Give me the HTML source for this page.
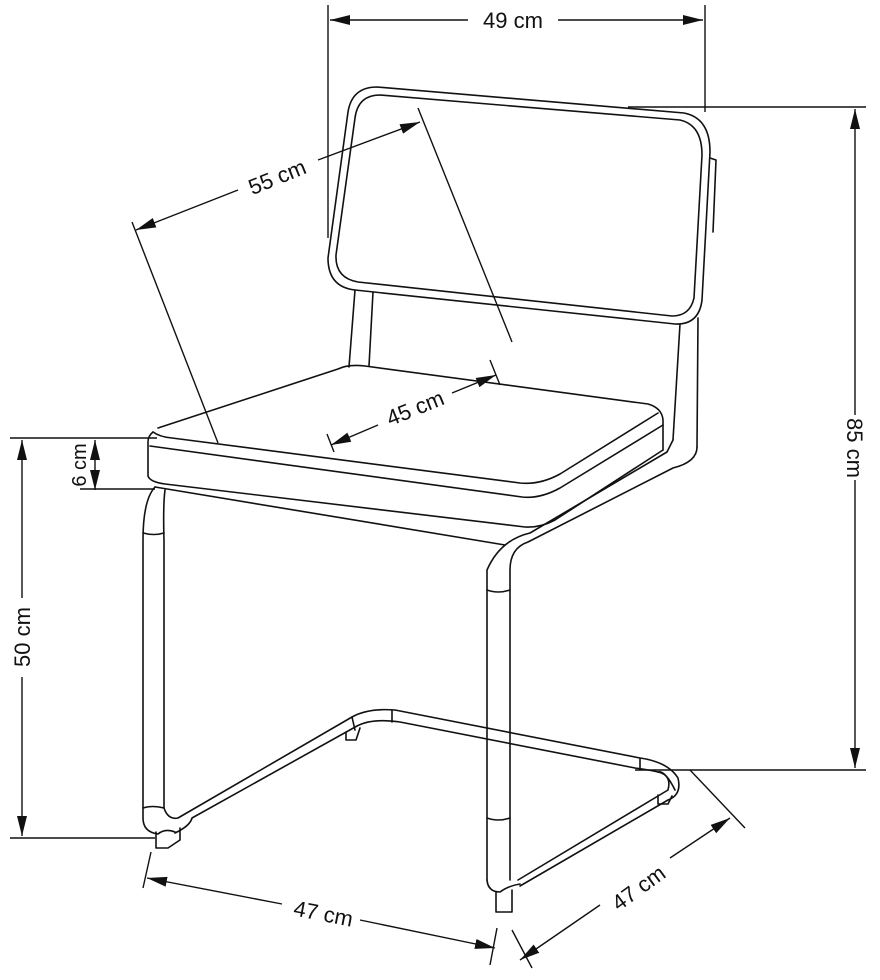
<!DOCTYPE html>
<html><head><meta charset="utf-8"><style>
html,body{margin:0;padding:0;background:#fff}
svg{display:block}
text{font-family:"Liberation Sans",sans-serif;font-size:22px;fill:#111}
</style></head><body>
<svg width="880" height="980" viewBox="0 0 880 980" xmlns="http://www.w3.org/2000/svg">
<defs>
<marker id="b" viewBox="0 0 20 10" refX="20" refY="5" markerWidth="20" markerHeight="10" orient="auto-start-reverse" markerUnits="userSpaceOnUse"><path d="M0,0 L20,5 L0,10 Z" fill="#111"/></marker>
</defs>
<g fill="none" stroke="#111" stroke-width="1.6" stroke-linejoin="round" stroke-linecap="round">
<!-- backrest -->
<path d="M377,87 L684,113 Q710,118 710,152 L702,300 Q699,325 675,324 L355,290 Q328,287 328,258 L348,112 Q352,87 377,87 Z"/>
<path d="M380,95 L680,120 Q702,125 702,155 L694,298 Q690,316 672,316 L358,282 Q335,278 336,255 L355,118 Q358,95 380,95 Z"/>
<path d="M710,158 L716,160 L713,232"/>
<!-- rear posts -->
<path d="M355,290 L349,367 M373,292 L369,366"/>
<path d="M680,324 L673,440 M698,318 L697,447"/>
<!-- seat -->
<path d="M158,428 L338,369 Q348,364 365,366 L648,404 Q662,408 663,420 L663,450"/>
<path d="M153,432 Q160,437 172,438 L520,483 Q540,485 560,474 L658,413"/>
<path d="M150,446 L522,497 Q540,499 560,488 L663,425"/>
<path d="M153,432 Q148,436 148,442 L148,476 Q150,482 165,484 L525,527 Q540,528 555,520 L663,450"/>
<path d="M155,487 L505,545"/>
<!-- right frame from post to front-right leg -->
<path d="M697,447 Q697,462 673,468 L528,542 Q510,548 510,570 L510,880"/>
<path d="M673,440 L667,452 L530,533 Q500,540 487,570 L487,880"/>
<path d="M487,880 Q488,892 500,892 Q508,886 520,884 M496,892 L496,912 L512,912 L512,890"/>
<path d="M487,590 Q498,594 510,590 M487,818 Q498,822 510,818"/>
<!-- front left leg -->
<path d="M155,487 Q143,500 143,540 L143,818 Q143,832 158,834 Q165,828 175,832 M165,490 Q163,505 164,540 L164,808"/>
<path d="M143,533 Q154,536 164,533"/>
<path d="M156,832 L156,848 L168,848 L180,840 L180,828"/>
<path d="M143,808 Q152,805 164,808"/>
<!-- base -->
<path d="M164,808 Q168,820 178,818 L352,717 Q368,708 395,710 L640,758 Q668,762 678,778 Q682,795 668,800 L520,886"/>
<path d="M175,833 Q190,826 192,818 L357,726 Q372,718 400,722 L635,768 Q650,770 658,772 Q672,775 668,790 L518,880"/>
<path d="M352,717 L355,730 M392,710 L392,722 M640,758 L640,770 M658,772 Q665,770 675,790"/>
<path d="M346,732 L346,740 L356,740 L360,728"/>
<path d="M658,795 L658,804 L668,804 L672,796"/>
</g>
<!-- dimensions -->
<g fill="none" stroke="#111" stroke-width="1.4">
<path d="M328,5 L328,238 M705,5 L705,112 M628,107 L866,107 M635,770 L866,770"/>
<path d="M330,20 L468,20" marker-start="url(#b)"/><path d="M558,20 L703,20" marker-end="url(#b)"/>
<path d="M855,109 L855,415" marker-start="url(#b)"/><path d="M855,480 L855,768" marker-end="url(#b)"/>
<path d="M10,438 L157,438 M10,838 L155,838 M80,489 L155,489"/>
<path d="M22,440 L22,598" marker-start="url(#b)"/><path d="M22,677 L22,836" marker-end="url(#b)"/>
<path d="M95,440 L95,490" marker-start="url(#b)" marker-end="url(#b)"/>
<path d="M132,222 L218,443 M418,108 L512,342"/>
<path d="M136,230 L238,190" marker-start="url(#b)"/><path d="M318,160 L420,122" marker-end="url(#b)"/>
<path d="M327,434 L334,452 M490,360 L500,385"/>
<path d="M331,445 L378,425" marker-start="url(#b)"/><path d="M452,393 L496,375" marker-end="url(#b)"/>
<path d="M151,852 L143,888 M497,928 L490,965"/>
<path d="M147,878 L282,904" marker-start="url(#b)"/><path d="M360,920 L495,948" marker-end="url(#b)"/>
<path d="M690,770 L745,828 M512,930 L532,968"/>
<path d="M520,960 L600,905" marker-start="url(#b)"/><path d="M670,858 L730,818" marker-end="url(#b)"/>
</g>
<text x="513" y="28" text-anchor="middle">49 cm</text>
<text transform="translate(847,448) rotate(90)" text-anchor="middle">85 cm</text>
<text transform="translate(30,637) rotate(-90)" text-anchor="middle">50 cm</text>
<text transform="translate(86,465) rotate(-90)" text-anchor="middle" style="font-size:20px">6 cm</text>
<text transform="translate(280,184) rotate(-22)" text-anchor="middle">55 cm</text>
<text transform="translate(418,415) rotate(-22)" text-anchor="middle">45 cm</text>
<text transform="translate(322,921) rotate(11)" text-anchor="middle">47 cm</text>
<text transform="translate(643,894) rotate(-36)" text-anchor="middle">47 cm</text>
</svg>
</body></html>
